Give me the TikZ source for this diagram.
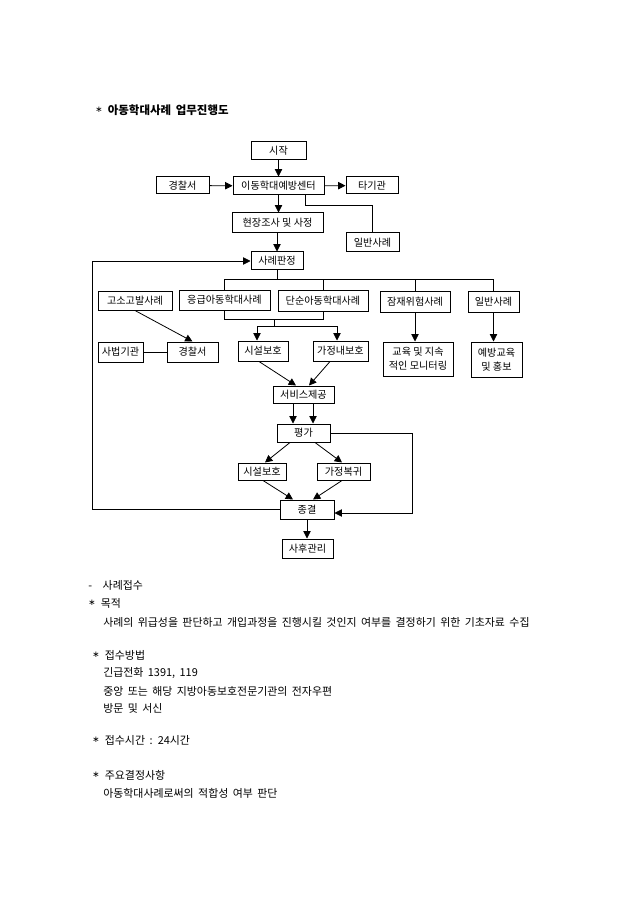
\documentclass[tikz,border=0pt]{standalone}
\usepackage{fontspec}
\setmainfont{Noto Sans CJK KR}
\newfontfamily\bodyfont[WordSpace=1.8]{Noto Sans CJK KR}
\newfontfamily\symfont{DejaVu Sans}
\usetikzlibrary{arrows.meta,calc}
\newcommand{\bul}{\raisebox{1.2pt}{\symfont\fontsize{6.5pt}{6.5pt}\selectfont ∗}\hspace{4pt}}
\begin{document}
\begin{tikzpicture}[x=0.75pt,y=-0.75pt,
  box/.style={draw,line width=0.75pt,inner sep=0pt,font=\fontsize{7.6pt}{10.5pt}\selectfont,align=center},
  sz/.style 2 args={minimum width={(#1)*0.75pt},minimum height={(#2)*0.75pt}},
  conn/.style={line width=0.6pt},
  arr/.style={conn,-{Triangle[length=5.5pt,width=5.5pt]}},
  txt/.style={anchor=west,inner sep=0pt,font=\bodyfont\fontsize{8.2pt}{10pt}\selectfont}]
\useasboundingbox[fill=white] (0,0) rectangle (640,905);

% title
\node[txt,font=\bodyfont\fontsize{8.6pt}{10pt}\selectfont] (title) at (95,110) {\bul\textbf{아동학대사례 업무진행도}};

% boxes
\node[box,sz={55}{18}] (start) at (278.5,151) {시작};
\node[box,sz={53}{17}] (police1) at (182.5,185.5) {경찰서};
\node[box,sz={91}{18}] (center) at (278.5,186) {이동학대예방센터};
\node[box,sz={52}{17}] (other) at (372,185.5) {타기관};
\node[box,sz={91}{20}] (survey) at (277.5,223) {현장조사 및 사정};
\node[box,sz={53}{19}] (gen1) at (372.5,242.5) {일반사례};
\node[box,sz={52}{18}] (judge) at (277,261) {사례판정};
\node[box,sz={74}{19}] (accuse) at (135,300.5) {고소고발사례};
\node[box,sz={91}{20}] (emerg) at (224.5,300) {응급아동학대사례};
\node[box,sz={90}{21}] (simple) at (323,300.5) {단순아동학대사례};
\node[box,sz={70}{21}] (latent) at (415,301.5) {잠재위험사례};
\node[box,sz={51}{21}] (gen2) at (493.5,301.5) {일반사례};
\node[box,sz={45}{20}] (judicial) at (120.5,352) {사법기관};
\node[box,sz={51}{20}] (police2) at (192.5,352) {경찰서};
\node[box,sz={50}{20}] (fac1) at (263,351) {시설보호};
\node[box,sz={55}{20}] (home1) at (340.5,351) {가정내보호};
\node[box,sz={70}{34}] (edu) at (418,359) {교육 및 지속\\적인 모니터링};
\node[box,sz={51}{35}] (prev) at (496.5,359.5) {예방교육\\및 홍보};
\node[box,sz={61}{17}] (service) at (303.5,394.5) {서비스제공};
\node[box,sz={53}{18}] (eval) at (303.5,433) {평가};
\node[box,sz={48}{17}] (fac2) at (262,471.5) {시설보호};
\node[box,sz={53}{17}] (homeret) at (343.5,471.5) {가정복귀};
\node[box,sz={54}{19}] (end) at (307,509.5) {종결};
\node[box,sz={51}{19}] (after) at (307.5,548.5) {사후관리};

% top connectors
\draw[arr] (start) -- (center);
\draw[arr] (police1) -- (center);
\draw[arr] (center) -- (other);
\draw[arr] (center.south) -- (center.south |- survey.north);
\coordinate (g1) at (305,205);
\draw[conn] (center.south -| g1) -- (g1) -| (gen1.north);
\draw[arr] (survey.south -| judge.north) -- (judge.north);

% distribution bus
\draw[conn] (judge.south) -- ++(0,9) coordinate (bj);
\draw[conn] (emerg.north) -- (emerg.north |- bj) -- (gen2.north |- bj) -- (gen2.north);
\draw[conn] (simple.north) -- (simple.north |- bj);
\draw[conn] (latent.north) -- (latent.north |- bj);

% join of emergency and simple cases
\draw[conn] (emerg.south) -- ++(0,9) coordinate (jl) -- (jl -| simple.south) -- (simple.south);
\coordinate (jm) at (274,319);
\coordinate (a1) at (257,326);
\coordinate (a2) at (337,326);
\draw[conn] (jm) -- (jm |- a1);
\draw[conn] (a1) -- (a2);
\draw[arr] (a1) -- (a1 |- fac1.north);
\draw[arr] (a2) -- (a2 |- home1.north);

% left side
\draw[arr] (accuse.south) -- (police2.north);
\draw[conn] (judicial) -- (police2);

% right side
\draw[arr] (latent.south) -- (latent.south |- edu.north);
\draw[arr] (gen2.south) -- (gen2.south |- prev.north);

% service
\draw[arr] ($(fac1.south)+(-4,0)$) -- ($(service.north)+(-7.5,0)$);
\draw[arr] ($(home1.south)+(-10.5,0)$) -- ($(service.north)+(5.5,0)$);
\draw[arr] ($(service.south)+(-10.5,0)$) -- ($(eval.north)+(-10.5,0)$);
\draw[arr] ($(service.south)+(9.5,0)$) -- ($(eval.north)+(9.5,0)$);

% evaluation
\draw[arr] ($(eval.south)+(-13.5,0)$) -- ($(fac2.north)+(3,0)$);
\draw[arr] ($(eval.south)+(11.5,0)$) -- ($(homeret.north)+(-1.5,0)$);
\draw[arr] ($(fac2.south)+(1,0)$) -- ($(end.north)+(-14,0)$);
\draw[arr] ($(homeret.south)+(-1.5,0)$) -- ($(end.north)+(6,0)$);
\draw[arr] (end.south) -- (end.south |- after.north);

% return lines
\coordinate (r2) at (412,513);
\draw[arr] (eval.east) -| (r2) -- (r2 -| end.east);
\coordinate (lp) at (92,0);
\draw[arr] (end.west) -- (end.west -| lp) |- (judge.west);

% body text
\node[txt] (b1) at (88,585) {-\hspace{8pt}사례접수};
\node[txt] (b2) at (88,603) {\bul 목적};
\node[txt] (b3) at (103,622) {사례의 위급성을 판단하고 개입과정을 진행시킬 것인지 여부를 결정하기 위한 기초자료 수집};
\node[txt] (b4) at (92,655) {\bul 접수방법};
\node[txt] (b5) at (103,673) {긴급전화 1391, 119};
\node[txt] (b6) at (103,691) {중앙 또는 해당 지방아동보호전문기관의 전자우편};
\node[txt] (b7) at (103,708) {방문 및 서신};
\node[txt] (b8) at (92,740) {\bul 접수시간 : 24시간};
\node[txt] (b9) at (92,775) {\bul 주요결정사항};
\node[txt] (b10) at (103,793) {아동학대사례로써의 적합성 여부 판단};
\end{tikzpicture}
\end{document}
